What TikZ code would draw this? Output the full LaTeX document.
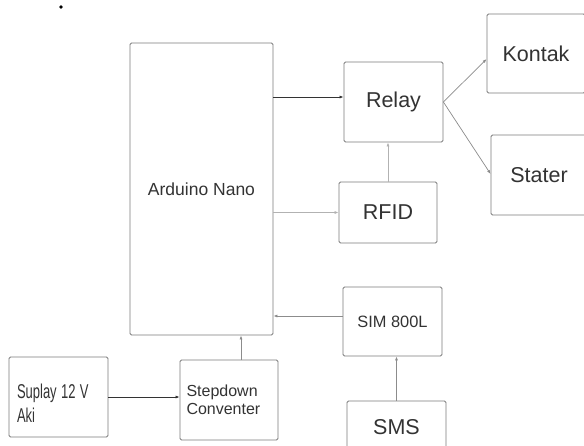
\documentclass[tikz,border=0pt]{standalone}
\usepackage{fontspec}
\setmainfont{Liberation Sans}
\usetikzlibrary{arrows.meta}
\definecolor{txt}{HTML}{333333}
\definecolor{boxc}{HTML}{7A7A7A}
\begin{document}
\begin{tikzpicture}[x=1pt,y=-1pt,
  blk/.style={draw=boxc, line width=0.8pt, rounded corners=1.5pt, text=txt, inner sep=0pt},
  arr/.style={-{Latex[length=4pt,width=3pt]}, line width=0.7pt, draw=txt},
  arrl/.style={arr, draw=gray!60},
  arrm/.style={arr, draw=gray!90}]
\clip (0,0) rectangle (584,445);
\fill[white] (0,0) rectangle (584,445);
\fill[black] (61,7) circle (1.8);
\node[blk, minimum width=143, minimum height=292, font=\fontsize{17.5}{20}\selectfont] (ard) at (201.5,189) {Arduino Nano};
\node[blk, minimum width=99, minimum height=80, font=\fontsize{21.5}{24}\selectfont] (relay) at (393.5,102) {Relay};
\node[blk, minimum width=98, minimum height=79, font=\fontsize{21.5}{24}\selectfont] (kontak) at (536,53.5) {Kontak};
\node[blk, minimum width=96, minimum height=80, font=\fontsize{21.5}{24}\selectfont] (stater) at (539,175) {Stater};
\node[blk, minimum width=98, minimum height=61, font=\fontsize{21.5}{24}\selectfont] (rfid) at (388,212.5) {RFID};
\node[blk, minimum width=99, minimum height=69, font=\fontsize{16.4}{19}\selectfont] (sim) at (392.5,321.5) {SIM 800L};
\node[blk, minimum width=99, minimum height=52, font=\fontsize{21.5}{24}\selectfont] (sms) at (396.5,427) {SMS};
\node[blk, minimum width=99, minimum height=80, text width=83, align=left, font=\fontsize{20}{20.5}\selectfont] (sup) at (58.5,397) {\rule{0pt}{27pt}\scalebox{0.65}[1]{Suplay 12 V}\\[4pt]\scalebox{0.65}[1]{Aki}};
\node[blk, minimum width=98, minimum height=80, text width=85, align=left, font=\fontsize{16}{17.5}\selectfont] (step) at (229,400) {Stepdown\\Conventer};
\draw[arr] (ard.east |- 0,97) -- (relay.west |- 0,97);
\draw[arrl] (ard.east |- rfid.west) -- (rfid.west);
\draw[arrl] (rfid.north) -- (rfid.north |- relay.south);
\draw[arrm] (relay.east) -- (kontak.west |- 0,59);
\draw[arrm] (relay.east) -- (stater.west |- 0,174);
\draw[arrm] (sim.west |- 0,316) -- (ard.east |- 0,316);
\draw[arrm] (sms.north) -- (sms.north |- sim.south);
\draw[arr] (sup.east |- 0,397) -- (step.west |- 0,397);
\draw[arrm] (step.north -| 241,0) -- (ard.south -| 241,0);
\end{tikzpicture}
\end{document}
